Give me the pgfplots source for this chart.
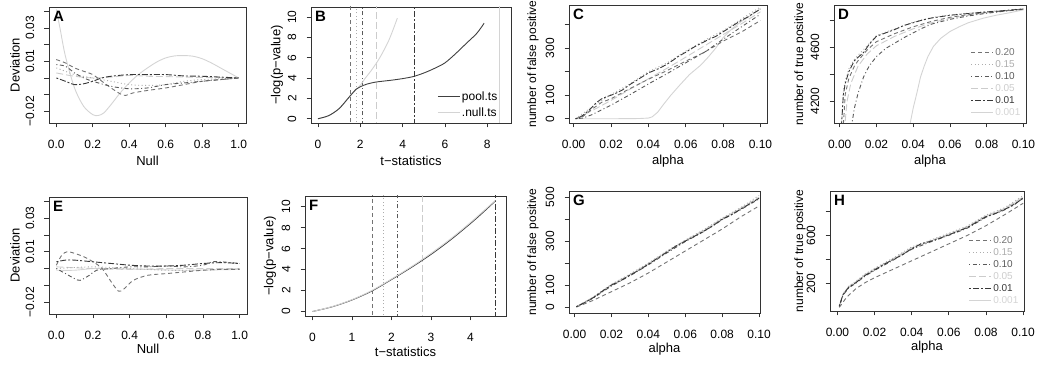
\documentclass[border=0pt]{standalone}
\usepackage{fontspec}
\setmainfont{Liberation Sans}
\usepackage{pgfplots}
\pgfplotsset{compat=1.18}
\definecolor{c20}{gray}{0.45}
\definecolor{c15}{gray}{0.68}
\definecolor{c10}{gray}{0.35}
\definecolor{c05}{gray}{0.80}
\definecolor{c01}{gray}{0.22}
\definecolor{c001}{gray}{0.83}
\pgfplotsset{
  s20/.style={c20, line width=0.9pt, dash pattern=on 4pt off 3pt},
  s15/.style={c15, line width=0.9pt, dash pattern=on 1pt off 2.5pt},
  s10/.style={c10, line width=0.9pt, dash pattern=on 1pt off 2.5pt on 4pt off 2.5pt},
  s05/.style={c05, line width=0.9pt, dash pattern=on 7pt off 3pt},
  s01/.style={c01, line width=0.9pt, dash pattern=on 2pt off 2pt on 6pt off 2pt},
  s001/.style={c001, line width=0.9pt},
  rbase/.style={
    scale only axis,
    scaled ticks=false,
    /pgf/number format/assume math mode=true,
    axis line style={black!80, line width=0.7pt},
    tick align=outside, tick pos=left, major tick length=4.5pt,
    tick style={black!80, line width=0.7pt},
    ticklabel style={font=\fontsize{12}{14}\selectfont},
    xticklabel style={yshift=-9pt},
    yticklabel style={rotate=90, anchor=south, inner ysep=10pt},
    label style={font=\fontsize{13}{15}\selectfont},
    xlabel style={anchor=center}, ylabel style={anchor=center},
    every axis plot/.append style={line join=round},
    legend image code/.code={\draw[##1] (0pt,0pt) -- (22pt,0pt);},
  },
  rlegend/.style={legend style={draw=none, fill=none, at={(axis description cs:0.995,0.02)}, anchor=south east,
    font=\fontsize{10}{12}\selectfont, row sep=0pt, cells={anchor=west},
    nodes={inner sep=1.5pt, text height=7.5pt, text depth=1.5pt}}},
}
\newcommand{\plabel}[1]{\node[anchor=north west, inner sep=0pt, xshift=4pt, yshift=-4pt, font=\bfseries\fontsize{15}{15}\selectfont] at (rel axis cs:0,1) {#1};}
\begin{document}
\begin{tikzpicture}
\useasboundingbox (0pt,0pt) rectangle (1037pt,366pt);
% ---------------- A ----------------
\begin{axis}[rbase, at={(49pt,243pt)}, anchor=south west, width=197pt, height=116pt,
  xmin=-0.04, xmax=1.04, ymin=-0.027, ymax=0.0425,
  xtick={0,0.2,0.4,0.6,0.8,1}, xticklabels={0.0,0.2,0.4,0.6,0.8,1.0},
  ytick={-0.02,-0.01,0,0.01,0.02,0.03,0.04}, yticklabels={−0.02,,,0.01,,0.03,},
  xlabel={Null}, ylabel={Deviation},
  xlabel style={at={(axis description cs:0.5,-0.33)}}, ylabel style={at={(axis description cs:-0.173,0.5)}}]
\addplot[s001, smooth] coordinates {(0,0.041)(0.02,0.030)(0.05,0.013)(0.1,-0.006)(0.15,-0.017)(0.2,-0.022)(0.23,-0.0225)(0.26,-0.021)(0.3,-0.016)(0.35,-0.009)(0.4,-0.003)(0.45,0.002)(0.5,0.006)(0.55,0.0095)(0.6,0.012)(0.65,0.0132)(0.7,0.0134)(0.75,0.013)(0.8,0.0115)(0.85,0.009)(0.9,0.006)(0.95,0.003)(1,0)};
\addplot[s05, smooth] coordinates {(0,0.003)(0.1,0.001)(0.2,0.0)(0.3,0.0005)(0.4,0.0015)(0.5,0.001)(0.6,0.0008)(0.8,0.0003)(1,0)};
\addplot[s15, smooth] coordinates {(0,0.006)(0.05,0.004)(0.1,0.002)(0.2,0.0)(0.3,-0.002)(0.4,-0.004)(0.5,-0.0045)(0.6,-0.004)(0.7,-0.002)(0.8,-0.001)(1,0)};
\addplot[s20, smooth] coordinates {(0,0.011)(0.05,0.009)(0.1,0.006)(0.15,0.004)(0.2,0.002)(0.25,-0.002)(0.3,-0.006)(0.35,-0.0095)(0.38,-0.0105)(0.42,-0.009)(0.5,-0.0075)(0.6,-0.006)(0.7,-0.004)(0.8,-0.002)(0.9,-0.001)(1,0)};
\addplot[s10, smooth] coordinates {(0,0.008)(0.05,0.007)(0.1,0.003)(0.15,0.0)(0.2,-0.002)(0.3,-0.005)(0.4,-0.0065)(0.5,-0.006)(0.6,-0.004)(0.7,-0.003)(0.8,-0.002)(0.9,-0.001)(1,0)};
\addplot[s01, smooth] coordinates {(0,0.0)(0.05,-0.002)(0.1,-0.004)(0.15,-0.0035)(0.2,-0.002)(0.25,0.0)(0.3,0.001)(0.4,0.002)(0.5,0.002)(0.6,0.002)(0.7,0.0012)(0.8,0.001)(0.9,0.0005)(1,0)};
\plabel{A}
\end{axis}
% ---------------- B ----------------
\begin{axis}[rbase, rlegend, at={(311pt,243pt)}, anchor=south west, width=200pt, height=116pt,
  xmin=-0.33, xmax=9.12, ymin=-0.42, ymax=11.0,
  xtick={0,2,4,6,8}, ytick={0,2,4,6,8,10},
  xlabel={t−statistics}, ylabel={−log(p−value)},
  xlabel style={at={(axis description cs:0.5,-0.33)}}, ylabel style={at={(axis description cs:-0.17,0.5)}},
  legend style={at={(axis description cs:0.955,0.0)}, font=\fontsize{12}{14}\selectfont, nodes={inner sep=1.5pt, text height=10pt, text depth=3pt}}]
\addplot[s20, forget plot] coordinates {(1.53,-1)(1.53,12)};
\addplot[s15, forget plot] coordinates {(1.80,-1)(1.80,12)};
\addplot[s10, forget plot] coordinates {(2.12,-1)(2.12,12)};
\addplot[s05, forget plot] coordinates {(2.78,-1)(2.78,12)};
\addplot[s01, forget plot] coordinates {(4.58,-1)(4.58,12)};
\addplot[s001, forget plot] coordinates {(8.57,-1)(8.57,12)};
\addplot[c001, line width=0.9pt, smooth, forget plot] coordinates {(0,0)(0.5,0.3)(1,1.0)(1.5,2.2)(2,3.3)(2.2,3.9)(2.5,4.7)(2.8,5.6)(3,6.3)(3.3,7.5)(3.5,8.5)(3.75,9.9)};
\addplot[black!75, line width=0.9pt, smooth, forget plot] coordinates {(0,0)(0.5,0.3)(1,1.0)(1.5,2.2)(1.8,2.9)(2,3.15)(2.3,3.4)(2.7,3.6)(3,3.68)(3.5,3.8)(4,3.95)(4.5,4.15)(5,4.5)(5.5,4.95)(6,5.5)(6.5,6.4)(7,7.4)(7.5,8.4)(7.85,9.4)};
\addlegendimage{black!75, line width=0.9pt}\addlegendentry{pool.ts}
\addlegendimage{c001, line width=0.9pt}\addlegendentry{.null.ts}
\plabel{B}
\end{axis}
% ---------------- C ----------------
\begin{axis}[rbase, at={(569pt,243pt)}, anchor=south west, width=198pt, height=118pt,
  xmin=-0.0025, xmax=0.1035, ymin=-18, ymax=484,
  xtick={0,0.02,0.04,0.06,0.08,0.1}, xticklabels={0.00,0.02,0.04,0.06,0.08,0.10},
  ytick={0,100,200,300,400}, yticklabels={0,100,,300,},
  xlabel={alpha}, ylabel={number of false positive},
  ylabel style={font=\fontsize{12}{14}\selectfont},
  xlabel style={at={(axis description cs:0.5,-0.325)}}, ylabel style={at={(axis description cs:-0.182,0.5)}}]
\addplot[s001] coordinates {(0.001,0)(0.02,0)(0.035,1)(0.04,3)(0.042,8)(0.045,28)(0.048,60)(0.052,100)(0.057,145)(0.062,188)(0.068,228)(0.072,262)(0.076,300)(0.08,345)(0.085,385)(0.09,415)(0.095,440)(0.1,470)};
\addplot[s05] coordinates {(0.001,0)(0.01,35)(0.02,78)(0.03,125)(0.04,170)(0.05,215)(0.06,262)(0.07,310)(0.08,358)(0.09,405)(0.1,455)};
\addplot[s15] coordinates {(0.001,0)(0.01,52)(0.02,103)(0.03,148)(0.04,200)(0.05,238)(0.06,288)(0.07,333)(0.08,375)(0.09,425)(0.1,476)};
\addplot[s20] coordinates {(0.001,0)(0.005,10)(0.01,42)(0.015,70)(0.02,85)(0.03,128)(0.04,168)(0.05,205)(0.06,245)(0.07,283)(0.08,330)(0.09,370)(0.1,418)};
\addplot[s10] coordinates {(0.001,0)(0.005,3)(0.01,18)(0.015,38)(0.02,58)(0.03,102)(0.04,148)(0.05,192)(0.06,238)(0.07,283)(0.08,338)(0.09,392)(0.1,445)};
\addplot[s01] coordinates {(0.001,0)(0.003,5)(0.005,15)(0.008,35)(0.01,50)(0.012,68)(0.015,85)(0.018,95)(0.02,100)(0.023,110)(0.026,122)(0.03,145)(0.033,160)(0.036,175)(0.04,195)(0.043,205)(0.046,215)(0.05,232)(0.053,248)(0.056,265)(0.06,283)(0.063,298)(0.066,312)(0.07,328)(0.073,340)(0.076,350)(0.08,370)(0.083,385)(0.086,400)(0.09,420)(0.093,432)(0.096,448)(0.1,466)};
\plabel{C}
\end{axis}
% ---------------- D ----------------
\begin{axis}[rbase, rlegend, at={(834pt,243pt)}, anchor=south west, width=192pt, height=118pt,
  xmin=-0.0031, xmax=0.1014, ymin=4040, ymax=4911,
  xtick={0,0.02,0.04,0.06,0.08,0.1}, xticklabels={0.00,0.02,0.04,0.06,0.08,0.10},
  ytick={4200,4400,4600,4800}, yticklabels={4200,,4600,},
  xlabel={alpha}, ylabel={number of true positive},
  ylabel style={font=\fontsize{12}{14}\selectfont},
  xlabel style={at={(axis description cs:0.5,-0.325)}}, ylabel style={at={(axis description cs:-0.177,0.5)}}]
\addplot[s001, forget plot] coordinates {(0.0375,3980)(0.04,4150)(0.042,4261)(0.044,4380)(0.046,4460)(0.048,4530)(0.051,4605)(0.055,4665)(0.06,4715)(0.065,4750)(0.07,4780)(0.078,4813)(0.085,4835)(0.093,4855)(0.1,4875)};
\addplot[s05, forget plot] coordinates {(0.0025,3980)(0.004,4200)(0.006,4330)(0.01,4460)(0.015,4550)(0.02,4610)(0.03,4680)(0.04,4735)(0.05,4780)(0.06,4812)(0.07,4835)(0.08,4853)(0.09,4866)(0.1,4879)};
\addplot[s15, forget plot] coordinates {(0.0008,3980)(0.002,4280)(0.003,4350)(0.005,4440)(0.008,4510)(0.01,4540)(0.015,4610)(0.02,4685)(0.03,4735)(0.04,4785)(0.05,4818)(0.06,4838)(0.07,4850)(0.08,4862)(0.09,4872)(0.1,4884)};
\addplot[s20, forget plot] coordinates {(0.0018,3980)(0.003,4250)(0.005,4370)(0.008,4460)(0.01,4500)(0.015,4580)(0.02,4640)(0.03,4700)(0.04,4750)(0.05,4790)(0.06,4820)(0.07,4840)(0.08,4855)(0.09,4868)(0.1,4880)};
\addplot[s10, forget plot] coordinates {(0.006,3980)(0.008,4150)(0.01,4260)(0.013,4380)(0.016,4460)(0.02,4530)(0.025,4590)(0.03,4630)(0.035,4670)(0.04,4705)(0.045,4740)(0.05,4770)(0.06,4805)(0.07,4830)(0.08,4850)(0.09,4866)(0.1,4880)};
\addplot[s01, forget plot] coordinates {(0.0008,3980)(0.002,4250)(0.003,4330)(0.005,4420)(0.008,4500)(0.01,4525)(0.013,4560)(0.016,4620)(0.02,4680)(0.025,4705)(0.03,4730)(0.035,4760)(0.04,4780)(0.045,4800)(0.05,4815)(0.06,4835)(0.07,4848)(0.08,4860)(0.09,4870)(0.1,4882)};
\addlegendimage{s20}\addlegendentry{\textcolor{c20}{0.20}}
\addlegendimage{s15}\addlegendentry{\textcolor{c15}{0.15}}
\addlegendimage{s10}\addlegendentry{\textcolor{c10}{0.10}}
\addlegendimage{s05}\addlegendentry{\textcolor{c05}{0.05}}
\addlegendimage{s01}\addlegendentry{\textcolor{c01}{0.01}}
\addlegendimage{s001}\addlegendentry{\textcolor{c001}{0.001}}
\plabel{D}
\end{axis}
% ---------------- E ----------------
\begin{axis}[rbase, at={(49pt,52pt)}, anchor=south west, width=198pt, height=117pt,
  xmin=-0.04, xmax=1.04, ymin=-0.027, ymax=0.0425,
  xtick={0,0.2,0.4,0.6,0.8,1}, xticklabels={0.0,0.2,0.4,0.6,0.8,1.0},
  ytick={-0.02,-0.01,0,0.01,0.02,0.03,0.04}, yticklabels={−0.02,,,0.01,,0.03,},
  xlabel={Null}, ylabel={Deviation},
  xlabel style={at={(axis description cs:0.5,-0.30)}}, ylabel style={at={(axis description cs:-0.172,0.5)}}]
\addplot[s001, smooth] coordinates {(0,-0.001)(0.1,-0.001)(0.2,0.0)(0.3,0.0)(0.5,-0.0005)(0.7,-0.001)(1,-0.0005)};
\addplot[s05, smooth] coordinates {(0,0.001)(0.2,0.0)(0.4,-0.0005)(0.6,0.0)(0.8,0.0)(1,0.0)};
\addplot[s15, smooth] coordinates {(0,0.0)(0.2,0.001)(0.4,0.0)(0.6,-0.001)(0.8,-0.001)(1,0.0)};
\addplot[s20, smooth] coordinates {(0,0.002)(0.03,0.008)(0.06,0.010)(0.1,0.009)(0.15,0.007)(0.2,0.004)(0.25,0.0)(0.3,-0.008)(0.34,-0.0135)(0.37,-0.012)(0.42,-0.007)(0.5,-0.004)(0.6,-0.003)(0.7,-0.002)(0.8,-0.001)(0.9,-0.0005)(1,-0.0005)};
\addplot[s10, smooth] coordinates {(0,0.0)(0.05,-0.003)(0.1,-0.006)(0.13,-0.007)(0.18,-0.004)(0.22,-0.001)(0.3,0.0)(0.4,0.001)(0.5,0.001)(0.6,0.0015)(0.7,0.001)(0.8,0.002)(0.85,0.004)(0.9,0.004)(1,0.003)};
\addplot[s01, smooth] coordinates {(0,0.004)(0.05,0.005)(0.1,0.005)(0.2,0.004)(0.3,0.003)(0.4,0.002)(0.5,0.0015)(0.6,0.0015)(0.7,0.002)(0.8,0.003)(0.9,0.0035)(1,0.003)};
\plabel{E}
\end{axis}
% ---------------- F ----------------
\begin{axis}[rbase, at={(305pt,50pt)}, anchor=south west, width=201pt, height=120pt,
  xmin=-0.19, xmax=4.9, ymin=-0.43, ymax=11.03,
  xtick={0,1,2,3,4}, ytick={0,2,4,6,8,10},
  xlabel={t−statistics}, ylabel={−log(p−value)},
  xlabel style={at={(axis description cs:0.5,-0.30)}}, ylabel style={at={(axis description cs:-0.174,0.5)}}]
\addplot[s20] coordinates {(1.53,-1)(1.53,12)};
\addplot[s15] coordinates {(1.80,-1)(1.80,12)};
\addplot[s10] coordinates {(2.14,-1)(2.14,12)};
\addplot[s05] coordinates {(2.78,-1)(2.78,12)};
\addplot[s01] coordinates {(4.63,-1)(4.63,12)};
\addplot[black!75, line width=0.9pt, smooth] coordinates {(0,0)(0.5,0.45)(1,1.1)(1.5,1.95)(2,3.05)(2.5,4.2)(3,5.45)(3.5,6.85)(4,8.4)(4.3,9.4)(4.63,10.55)};
\addplot[c001, line width=0.9pt, smooth] coordinates {(0,0)(0.5,0.47)(1,1.13)(1.5,2.0)(2,3.1)(2.5,4.27)(3,5.55)(3.5,6.95)(4,8.5)(4.3,9.5)(4.63,10.6)};
\plabel{F}
\end{axis}
% ---------------- G ----------------
\begin{axis}[rbase, at={(569pt,53pt)}, anchor=south west, width=191pt, height=122pt,
  xmin=-0.003, xmax=0.1005, ymin=-27, ymax=528,
  xtick={0,0.02,0.04,0.06,0.08,0.1}, xticklabels={0.00,0.02,0.04,0.06,0.08,0.10},
  ytick={0,100,200,300,400,500}, yticklabels={0,100,,300,,500},
  xlabel={alpha}, ylabel={number of false positive},
  ylabel style={font=\fontsize{12}{14}\selectfont},
  xlabel style={at={(axis description cs:0.5,-0.295)}}, ylabel style={at={(axis description cs:-0.188,0.5)}}]
\addplot[s001] coordinates {(0.001,2)(0.01,43)(0.02,100)(0.03,146)(0.04,196)(0.05,250)(0.06,301)(0.07,347)(0.08,400)(0.09,447)(0.1,497)};
\addplot[s05] coordinates {(0.001,2)(0.01,44)(0.02,102)(0.03,148)(0.04,198)(0.05,252)(0.06,303)(0.07,350)(0.08,402)(0.09,450)(0.1,500)};
\addplot[s15] coordinates {(0.001,2)(0.01,45)(0.02,104)(0.03,150)(0.04,200)(0.05,256)(0.06,305)(0.07,352)(0.08,405)(0.09,452)(0.1,508)};
\addplot[s20] coordinates {(0.001,0)(0.01,30)(0.02,70)(0.03,110)(0.04,155)(0.05,205)(0.06,255)(0.07,305)(0.08,355)(0.09,410)(0.1,460)};
\addplot[s10] coordinates {(0.001,1)(0.01,40)(0.02,96)(0.03,142)(0.04,192)(0.05,246)(0.06,298)(0.07,343)(0.08,397)(0.09,443)(0.1,492)};
\addplot[s01] coordinates {(0.001,2)(0.005,18)(0.01,42)(0.015,72)(0.02,100)(0.025,120)(0.03,145)(0.035,168)(0.04,195)(0.045,222)(0.05,250)(0.055,278)(0.06,300)(0.065,322)(0.07,345)(0.075,370)(0.08,400)(0.085,420)(0.09,445)(0.095,470)(0.1,495)};
\plabel{G}
\end{axis}
% ---------------- H ----------------
\begin{axis}[rbase, rlegend, at={(830pt,55pt)}, anchor=south west, width=194pt, height=120pt,
  xmin=-0.004, xmax=0.1005, ymin=-25, ymax=967,
  xtick={0,0.02,0.04,0.06,0.08,0.1}, xticklabels={0.00,0.02,0.04,0.06,0.08,0.10},
  ytick={200,400,600,800}, yticklabels={200,,600,},
  xlabel={alpha}, ylabel={number of true positive},
  ylabel style={font=\fontsize{12}{14}\selectfont},
  xlabel style={at={(axis description cs:0.5,-0.30)}}, ylabel style={at={(axis description cs:-0.155,0.5)}}]
\addplot[s001, forget plot] coordinates {(0.001,15)(0.003,110)(0.006,170)(0.01,212)(0.015,272)(0.02,317)(0.03,402)(0.04,492)(0.05,552)(0.06,607)(0.07,667)(0.08,757)(0.09,817)(0.1,912)};
\addplot[s05, forget plot] coordinates {(0.001,18)(0.003,115)(0.006,175)(0.01,218)(0.015,278)(0.02,322)(0.03,408)(0.04,498)(0.05,556)(0.06,612)(0.07,672)(0.08,762)(0.09,822)(0.1,918)};
\addplot[s15, forget plot] coordinates {(0.001,20)(0.003,118)(0.006,180)(0.01,222)(0.015,282)(0.02,328)(0.03,412)(0.04,505)(0.05,560)(0.06,618)(0.07,678)(0.08,768)(0.09,828)(0.1,928)};
\addplot[s20, forget plot] coordinates {(0.001,5)(0.005,90)(0.01,160)(0.015,210)(0.02,250)(0.03,320)(0.04,390)(0.05,460)(0.06,530)(0.07,600)(0.08,680)(0.09,770)(0.1,865)};
\addplot[s10, forget plot] coordinates {(0.001,12)(0.003,105)(0.006,165)(0.01,205)(0.015,265)(0.02,310)(0.03,395)(0.04,485)(0.05,545)(0.06,600)(0.07,660)(0.08,750)(0.09,810)(0.1,905)};
\addplot[s01, forget plot] coordinates {(0.001,15)(0.003,110)(0.006,170)(0.01,210)(0.015,270)(0.02,315)(0.025,360)(0.03,400)(0.035,440)(0.04,490)(0.045,530)(0.05,550)(0.055,575)(0.06,605)(0.065,635)(0.07,665)(0.075,710)(0.08,755)(0.085,780)(0.09,815)(0.095,850)(0.1,910)};
\addlegendimage{s20}\addlegendentry{\textcolor{c20}{0.20}}
\addlegendimage{s15}\addlegendentry{\textcolor{c15}{0.15}}
\addlegendimage{s10}\addlegendentry{\textcolor{c10}{0.10}}
\addlegendimage{s05}\addlegendentry{\textcolor{c05}{0.05}}
\addlegendimage{s01}\addlegendentry{\textcolor{c01}{0.01}}
\addlegendimage{s001}\addlegendentry{\textcolor{c001}{0.001}}
\plabel{H}
\end{axis}
\end{tikzpicture}
\end{document}
